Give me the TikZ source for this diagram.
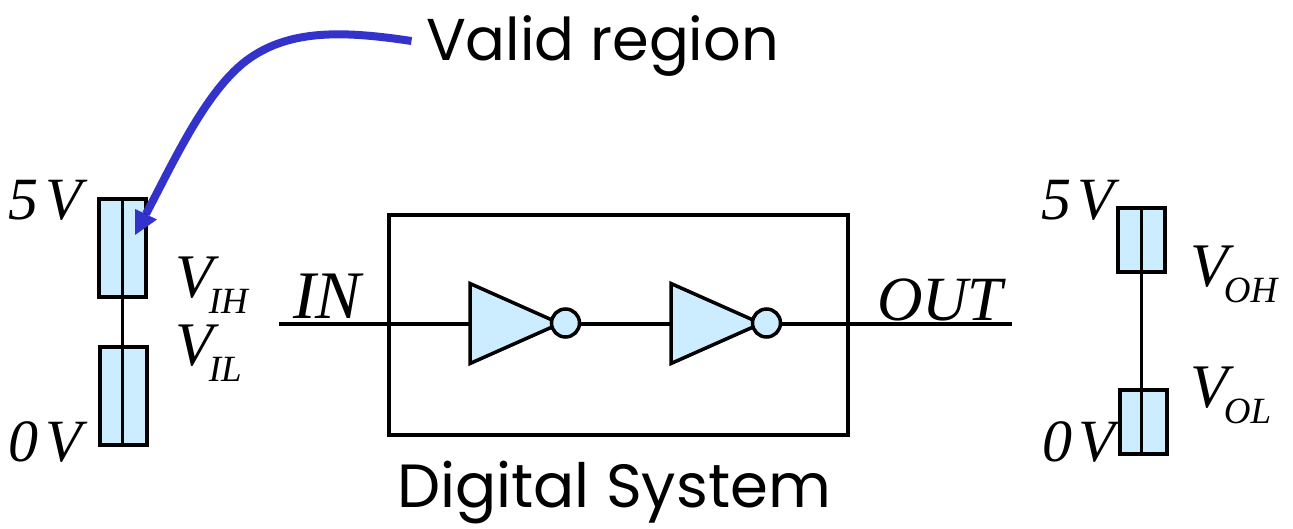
\documentclass[tikz,border=0pt]{standalone}
\usepackage{fontspec}
\setmainfont{Liberation Serif}
\newfontfamily\handfont{Poppins}
\usetikzlibrary{shapes.geometric}
\definecolor{barfill}{HTML}{CCECFF}
\definecolor{arrowblue}{HTML}{3333CC}
\newcommand{\bigit}{\fontsize{60}{60}\selectfont\itshape}
\newcommand{\volt}[1]{\fontsize{62}{62}\selectfont\itshape V\kern-4pt\raisebox{-16pt}{\fontsize{37}{37}\selectfont #1}}
\tikzset{
  wire/.style={draw=black,line width=3.5pt},
  bar/.style={draw=black,line width=3.5pt,fill=barfill,inner sep=0pt,outer sep=0pt,minimum width=47pt},
  inv/.style={isosceles triangle,isosceles triangle stretches,shape border rotate=0,draw=black,line width=3.5pt,fill=barfill,inner sep=0pt,outer sep=0pt,minimum width=80pt,minimum height=90pt,anchor=west},
  bubble/.style={circle,draw=black,line width=3.5pt,fill=barfill,inner sep=0pt,outer sep=0pt,minimum size=28pt},
  lab/.style={anchor=base west,inner sep=0pt,outer sep=0pt,font=\bigit},
  hand/.style={anchor=base west,inner sep=0pt,outer sep=0pt},
}
\begin{document}
\begin{tikzpicture}[x=1pt,y=-1pt]
\useasboundingbox (0,0) rectangle (1293,528);
% main box
\node[draw=black,line width=3.5pt,inner sep=0pt,outer sep=0pt,minimum width=459pt,minimum height=220pt] (sys) at (618.5,325) {};
% wires
\coordinate (inEnd) at (279,324);
\coordinate (outEnd) at (1012,324);
\node[inv] (t1) at (470,323.5) {};
\node[bubble] (b1) at (565.5,323) {};
\node[inv] (t2) at (671,323.5) {};
\node[bubble] (b2) at (766.5,323) {};
\draw[wire] (inEnd) -- (inEnd -| t1.west);
\draw[wire] (b1.east |- inEnd) -- (inEnd -| t2.west);
\draw[wire] (b2.east |- inEnd) -- (outEnd);
% left bars
\node[bar,minimum height=98pt] (lt) at (122.5,248) {};
\node[bar,minimum height=98pt] (lb) at (123.5,396) {};
\draw[wire] (lt.north) -- (lt.north |- lb.south);
% right bars
\node[bar,minimum height=64pt] (rt) at (1141.5,240) {};
\node[bar,minimum height=64pt] (rb) at (1143.5,422) {};
\draw[wire] (rt.north) -- (rt.north |- rb.south);
% labels
\node[lab] (l5) at (9,219) {5\kern7pt V};
\node[lab] (l0) at (9,461) {0\kern7pt V};
\node[lab] (r5) at (1041,219) {5\kern7pt V};
\node[lab] (r0) at (1042,461) {0\kern7pt V};
\node[lab] (vih) at (175,297) {\volt{IH}};
\node[lab] (vil) at (175,365) {\volt{IL}};
\node[lab] (voh) at (1190,286) {\volt{OH}};
\node[lab] (vol) at (1190,407) {\volt{OL}};
\node[lab,font=\fontsize{68}{68}\selectfont\itshape] (in) at (293,318) {IN};
\node[lab,font=\fontsize{63}{63}\selectfont\itshape] (out) at (877,320) {OUT};
\node[hand,font=\handfont\fontsize{59}{59}\selectfont] (valid) at (426,60) {Valid region};
\node[hand,font=\handfont\fontsize{61}{61}\selectfont] (dsys) at (397,507) {Digital System};
% blue arrow
\coordinate (aS) at (411.5,41);
\coordinate (aM) at (250,58);
\coordinate (aE) at (146,214);
\coordinate (tA) at (135,209);
\coordinate (tB) at (157,219.5);
\coordinate (tC) at (135,235);
\draw[arrowblue,line width=8pt] (aS) .. controls (345,31) and (292,29) .. (aM) .. controls (208,87) and (176,157) .. (aE);
\fill[arrowblue] (tA) -- (tB) -- (tC) -- cycle;
\end{tikzpicture}
\end{document}
